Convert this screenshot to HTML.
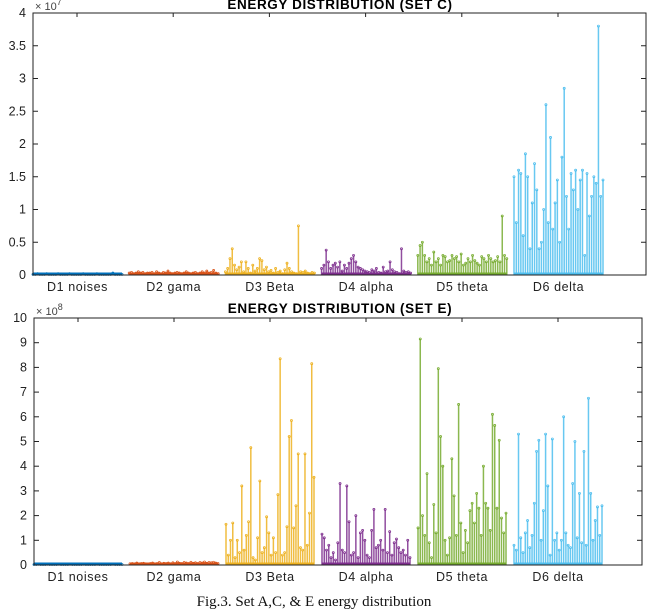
<!DOCTYPE html>
<html><head><meta charset="utf-8"><style>
body{margin:0;background:#fff;width:647px;height:612px;overflow:hidden}
svg{display:block;font-family:"Liberation Sans",sans-serif}
</style></head><body>
<svg id="fig" width="647" height="612" viewBox="0 0 647 612"></svg>
<script>
const groupLabels=["D1 noises","D2 gama","D3 Beta","D4 alpha","D5 theta","D6 delta"];
const colors=["#0072BD","#D95319","#EDB120","#7E2F8E","#77AC30","#4DBEEE"];
const yTicksC=["0","0.5","1","1.5","2","2.5","3","3.5","4"];
const yTickValsC=[0,0.5,1,1.5,2,2.5,3,3.5,4];
const yTicksE=["0","1","2","3","4","5","6","7","8","9","10"];
const yTickValsE=[0,1,2,3,4,5,6,7,8,9,10];
const setC_D1=[0.01,0.01,0.02,0.01,0.01,0.01,0.02,0.01,0.01,0.01,0.01,0.02,0.01,0.01,0.01,0.01,0.02,0.01,0.01,0.01,0.01,0.01,0.02,0.01,0.01,0.01,0.01,0.01,0.02,0.01,0.01,0.01,0.01,0.01,0.01,0.03,0.01,0.01,0.01,0.01];
const setC_D2=[0.03,0.04,0.02,0.03,0.05,0.03,0.04,0.02,0.03,0.03,0.04,0.02,0.05,0.03,0.02,0.04,0.03,0.06,0.03,0.02,0.03,0.04,0.03,0.02,0.03,0.05,0.03,0.02,0.03,0.04,0.02,0.03,0.05,0.03,0.06,0.03,0.04,0.07,0.03,0.02];
const setC_D3=[0.05,0.1,0.25,0.4,0.15,0.08,0.12,0.2,0.05,0.2,0.1,0.03,0.15,0.06,0.1,0.25,0.22,0.08,0.12,0.05,0.07,0.03,0.1,0.04,0.06,0.02,0.08,0.18,0.1,0.05,0.03,0.02,0.75,0.05,0.04,0.06,0.03,0.02,0.04,0.03];
const setC_D4=[0.1,0.15,0.38,0.2,0.1,0.15,0.18,0.12,0.2,0.06,0.15,0.1,0.18,0.25,0.3,0.2,0.12,0.1,0.08,0.06,0.05,0.04,0.08,0.06,0.1,0.04,0.03,0.12,0.05,0.06,0.2,0.08,0.05,0.04,0.02,0.4,0.06,0.04,0.05,0.03];
const setC_D5=[0.3,0.45,0.5,0.3,0.2,0.25,0.15,0.35,0.2,0.25,0.15,0.3,0.28,0.2,0.22,0.3,0.25,0.28,0.2,0.32,0.15,0.18,0.25,0.2,0.3,0.22,0.18,0.15,0.28,0.25,0.2,0.3,0.25,0.2,0.22,0.28,0.2,0.9,0.3,0.25];
const setC_D6=[1.5,0.8,1.6,1.55,0.6,1.85,1.5,0.4,1.1,1.7,1.3,0.4,0.5,1.0,2.6,0.8,2.1,0.7,1.1,1.45,0.5,1.8,2.85,1.2,0.7,1.55,1.3,1.6,1.0,1.45,1.6,0.3,1.55,0.9,1.2,1.5,1.4,3.8,1.2,1.45];
const setE_D1=[0.02,0.02,0.03,0.02,0.02,0.02,0.03,0.02,0.02,0.02,0.02,0.03,0.02,0.02,0.02,0.02,0.03,0.02,0.02,0.02,0.02,0.02,0.03,0.02,0.02,0.02,0.02,0.02,0.03,0.02,0.02,0.02,0.02,0.02,0.02,0.03,0.02,0.02,0.02,0.02];
const setE_D2=[0.05,0.06,0.04,0.08,0.05,0.06,0.07,0.05,0.04,0.06,0.08,0.05,0.06,0.1,0.05,0.07,0.06,0.08,0.05,0.09,0.06,0.12,0.07,0.06,0.1,0.08,0.06,0.11,0.07,0.09,0.06,0.1,0.08,0.12,0.07,0.1,0.09,0.11,0.08,0.06];
const setE_D3=[1.65,0.4,1.0,1.7,0.3,1.0,0.5,3.2,0.6,1.2,1.75,4.75,0.3,0.2,1.1,3.4,0.5,0.7,1.95,1.3,0.4,1.1,0.5,2.85,8.35,0.4,0.5,1.55,5.2,5.85,1.5,2.4,4.5,0.7,0.6,4.5,0.8,2.1,8.15,3.55];
const setE_D4=[1.25,1.1,0.6,0.8,0.3,0.5,0.2,0.9,3.3,0.6,0.5,3.2,1.75,0.4,0.5,2.0,0.3,1.3,1.4,1.0,0.4,0.3,1.4,2.25,0.7,0.8,1.0,0.6,2.25,0.5,1.35,0.4,0.9,1.05,0.7,0.5,0.6,0.4,1.0,0.3];
const setE_D5=[1.5,9.15,2.0,1.2,3.7,0.9,0.3,2.45,1.3,7.95,5.2,4.0,1.0,0.4,1.1,4.3,2.8,1.2,6.5,1.7,0.5,1.4,0.9,2.2,2.5,1.7,2.9,2.3,1.2,4.0,2.5,2.3,1.4,6.1,5.65,2.3,5.05,1.9,1.3,2.1];
const setE_D6=[0.8,0.6,5.3,1.1,0.5,1.3,1.8,0.7,1.2,2.5,4.6,5.05,1.0,2.2,5.3,3.2,0.4,5.1,1.0,1.3,0.6,1.0,6.0,1.3,0.8,0.7,3.3,5.0,1.1,2.9,0.9,4.6,0.8,6.75,2.9,1.0,1.8,2.35,1.2,2.4];

const NS="http://www.w3.org/2000/svg";
const svg=document.getElementById('fig');
function mk(tag,attrs,parent,text){const e=document.createElementNS(NS,tag);for(const k in attrs)e.setAttribute(k,attrs[k]);if(text!==undefined)e.textContent=text;(parent||svg).appendChild(e);return e;}

function drawPanel(p){
  const g=mk('g',{});
  
  
  const ys=v=>p.bottom-(v/p.ymax)*(p.bottom-p.top);
  const gx=(gi,j,n)=>p.left+gi*p.gstep+j*(p.gwidth/(n-1));
  const t=mk('text',{x:340,y:p.titleY,'text-anchor':'middle','font-size':13.5,'font-weight':'bold',fill:'#000','letter-spacing':0.6},g,p.title);
  
  
  const ex=mk('text',{x:p.left+2,y:p.top-3,'font-size':11,fill:'#444'},g,'× 10');
  
  
  mk('tspan',{dy:-5,'font-size':9},ex,p.exp);
  p.series.forEach((vals,gi)=>{
    const sg=mk('g',{stroke:colors[gi],fill:'none','stroke-width':1.5},g);
    
    
    const x0=gx(gi,0,vals.length),x1=gx(gi,vals.length-1,vals.length);
    mk('line',{x1:x0,x2:x1,y1:p.bottom-1,y2:p.bottom-1,'stroke-width':3},sg);
    vals.forEach((v,j)=>{
      const x=gx(gi,j,vals.length),y=ys(v);
      const s=mk('line',{x1:x,x2:x,y1:p.bottom,y2:y,'stroke-opacity':0.85},sg);
      
      
      mk('circle',{cx:x,cy:y,r:1,'stroke-width':0.8},sg);
    });
    const lb=mk('text',{x:(x0+x1)/2,y:p.bottom+16,'text-anchor':'middle','font-size':12.5,fill:'#222',stroke:'none','letter-spacing':0.6},g,groupLabels[gi]);
    
    
  });
  mk('rect',{x:p.left,y:p.top,width:p.right-p.left,height:p.bottom-p.top,fill:'none',stroke:'#222','stroke-width':1},g);
  p.tickVals.forEach((v,i)=>{
    const y=ys(v);
    mk('line',{x1:p.left,x2:p.left+5,y1:y,y2:y,stroke:'#222'},g);
    mk('line',{x1:p.right,x2:p.right-5,y1:y,y2:y,stroke:'#222'},g);
    const tl=mk('text',{x:p.left-7,y:y+4,'text-anchor':'end','font-size':12.5,fill:'#222'},g,p.ticks[i]);
    
    
  });
  for(let gi=0;gi<6;gi++){const x=p.left+44+gi*p.gstep;mk('line',{x1:x,x2:x,y1:p.top,y2:p.top+4,stroke:'#222'},g);}
}
drawPanel({name:'set-c-chart',title:'ENERGY DISTRIBUTION (SET C)',titleY:9,exp:'7',left:33,right:646,top:13,bottom:275,ymax:4,gstep:96.2,gwidth:89,ticks:yTicksC,tickVals:yTickValsC,series:[setC_D1,setC_D2,setC_D3,setC_D4,setC_D5,setC_D6]});
drawPanel({name:'set-e-chart',title:'ENERGY DISTRIBUTION (SET E)',titleY:313,exp:'8',left:34,right:642,top:318,bottom:565,ymax:10,gstep:96,gwidth:88,ticks:yTicksE,tickVals:yTickValsE,series:[setE_D1,setE_D2,setE_D3,setE_D4,setE_D5,setE_D6]});
const cap=mk('text',{x:314,y:606,'text-anchor':'middle','font-size':15,'font-family':'Liberation Serif, serif',fill:'#111'},svg,'Fig.3. Set A,C, & E energy distribution');


</script>
</body></html>
